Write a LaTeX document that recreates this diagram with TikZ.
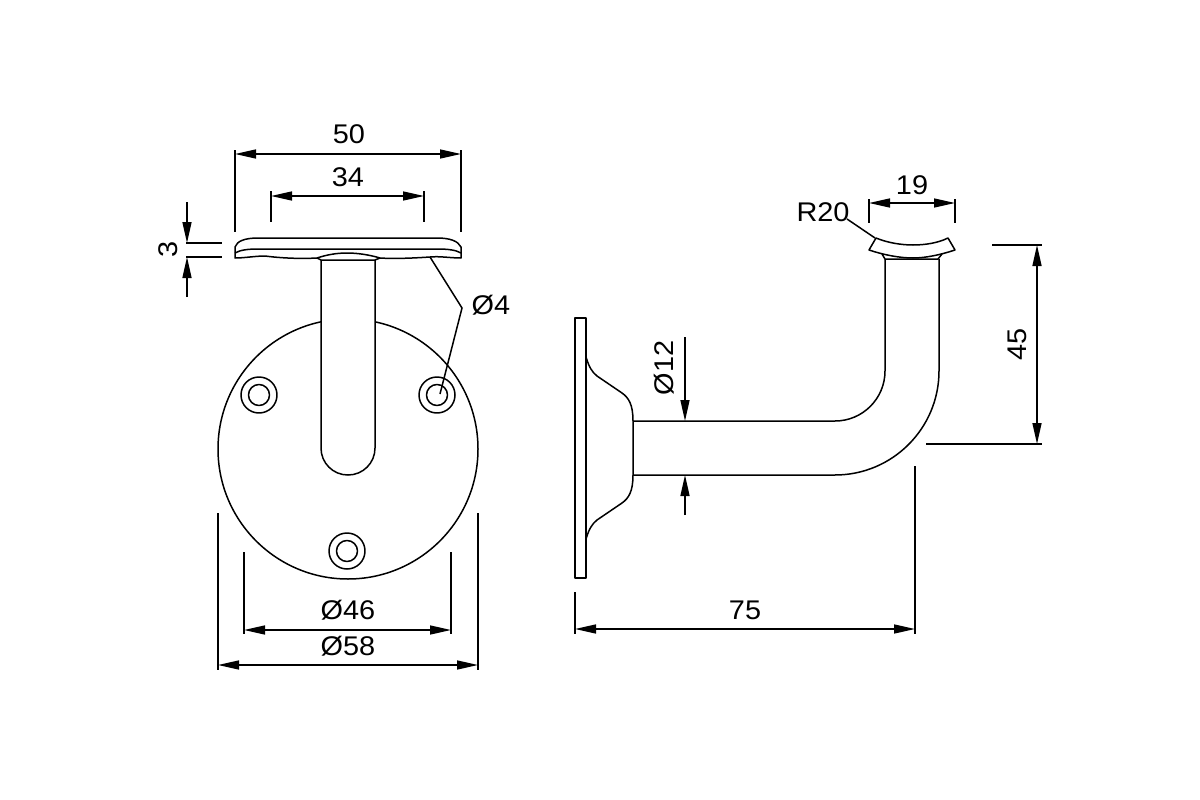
\documentclass[tikz,border=0pt]{standalone}
\usepackage{fontspec}
\setmainfont[FakeStretch=1.07]{Liberation Sans}
\usetikzlibrary{arrows.meta}
\tikzset{
  part/.style={draw=black,line width=1.5pt,line join=round},
  thinl/.style={draw=black,line width=1.5pt},
  tip/.style={-{Triangle[length=21pt,width=9pt]}},
  dim/.style={thinl,{Triangle[length=21pt,width=9pt]}-{Triangle[length=21pt,width=9pt]}},
  lab/.style={inner sep=0pt,font=\fontsize{27}{27}\selectfont,text=black}
}
\begin{document}
\begin{tikzpicture}[x=1pt,y=-1pt]
\useasboundingbox[fill=white] (0,0) rectangle (1200,800);

% front view: base disc, holes, stem
\draw[part] (348,449) circle[radius=130];
\draw[part] (259,395) circle[radius=18];
\draw[part] (259,395) circle[radius=10.5];
\draw[part] (437,395) circle[radius=18];
\draw[part] (437,395) circle[radius=10.5];
\draw[part] (347,551) circle[radius=18];
\draw[part] (347,551) circle[radius=10.5];
\draw[part,fill=white] (321,260) -- (321,448) .. controls (321,463) and (333,475) .. (348,475) .. controls (363,475) and (375,463) .. (375,448) -- (375,260);

% front view: top plate
\draw[part,fill=white] (235,258) -- (235,247) .. controls (237,241) and (245,238) .. (258,238) -- (437,238)
  .. controls (450,238) and (458,241) .. (461,247) -- (461,258)
  .. controls (450,258) and (440,256) .. (430,257) .. controls (415,258) and (395,259) .. (380,258)
  .. controls (370,255) and (358,253) .. (347,253) .. controls (336,253) and (326,255) .. (317,258)
  .. controls (300,259) and (280,258) .. (265,256) .. controls (255,256) and (245,258) .. (235,258) -- cycle;
\draw[part] (235,253) .. controls (240,250) and (248,249) .. (258,249) -- (437,249) .. controls (448,249) and (456,250) .. (461,253);
\draw[part] (317,258) -- (321,260) -- (375,260) -- (380,258);

% side view
\draw[part] (575,318) rectangle (586,578);
\draw[part] (586,357) .. controls (589,367) and (592,372) .. (597,376) -- (622,393) .. controls (629,398) and (633,405) .. (633,421)
  -- (633,475) .. controls (633,491) and (629,498) .. (622,503) -- (597,520) .. controls (592,524) and (589,529) .. (586,539);
\draw[part] (633,421) -- (835,421) .. controls (862.6,421) and (885,398.6) .. (885,371) -- (885,259);
\draw[part] (633,475) -- (835,475) .. controls (892.4,475) and (939,428.4) .. (939,371) -- (939,259);
\draw[part] (882,254) -- (885,259) -- (938,259) -- (942,254);
\draw[part,fill=white] (876,238) .. controls (888,243) and (902,245) .. (913,245) .. controls (925,245) and (938,243) .. (948,238)
  -- (955,250) .. controls (940,255) and (925,258) .. (913,258) .. controls (900,258) and (884,255) .. (869,250) -- cycle;

% dimensions
\coordinate (e50a) at (235,150); \coordinate (e50b) at (235,232);
\coordinate (e50c) at (461,150); \coordinate (e50d) at (461,232);
\draw[thinl] (e50a) -- (e50b); \draw[thinl] (e50c) -- (e50d);
\coordinate (d50a) at (235,154); \coordinate (d50b) at (461,154);
\draw[dim] (d50a) -- (d50b);
\node[lab] (t50) at (349,134) {50};

\coordinate (e34a) at (271,191); \coordinate (e34b) at (271,222);
\coordinate (e34c) at (424,191); \coordinate (e34d) at (424,222);
\draw[thinl] (e34a) -- (e34b); \draw[thinl] (e34c) -- (e34d);
\coordinate (d34a) at (271,196); \coordinate (d34b) at (424,196);
\draw[dim] (d34a) -- (d34b);
\node[lab] (t34) at (348,177) {34};

\coordinate (e3a) at (186,243); \coordinate (e3b) at (222,243);
\coordinate (e3c) at (186,257); \coordinate (e3d) at (222,257);
\draw[thinl] (e3a) -- (e3b); \draw[thinl] (e3c) -- (e3d);
\coordinate (d3a) at (187,202); \coordinate (d3b) at (187,243);
\coordinate (d3c) at (187,297); \coordinate (d3d) at (187,257);
\draw[thinl,tip] (d3a) -- (d3b);
\draw[thinl,tip] (d3c) -- (d3d);
\node[lab,rotate=90] (t3) at (168,249) {3};

\coordinate (l4a) at (430,257); \coordinate (l4b) at (462,308); \coordinate (l4c) at (440,394);
\draw[thinl] (l4a) -- (l4b) -- (l4c);
\node[lab] (t4) at (491,305) {Ø4};

\coordinate (e46a) at (244,552); \coordinate (e46b) at (244,634);
\coordinate (e46c) at (451,552); \coordinate (e46d) at (451,634);
\draw[thinl] (e46a) -- (e46b); \draw[thinl] (e46c) -- (e46d);
\coordinate (d46a) at (244,630); \coordinate (d46b) at (451,630);
\draw[dim] (d46a) -- (d46b);
\node[lab] (t46) at (348,610) {Ø46};

\coordinate (e58a) at (218,513); \coordinate (e58b) at (218,670);
\coordinate (e58c) at (478,513); \coordinate (e58d) at (478,670);
\draw[thinl] (e58a) -- (e58b); \draw[thinl] (e58c) -- (e58d);
\coordinate (d58a) at (218,665); \coordinate (d58b) at (478,665);
\draw[dim] (d58a) -- (d58b);
\node[lab] (t58) at (348,646) {Ø58};

\coordinate (d12a) at (685,337); \coordinate (d12b) at (685,421);
\coordinate (d12c) at (685,515); \coordinate (d12d) at (685,475);
\draw[thinl,tip] (d12a) -- (d12b);
\draw[thinl,tip] (d12c) -- (d12d);
\node[lab,rotate=90] (t12) at (664,368) {Ø12};

\coordinate (e75a) at (575,592); \coordinate (e75b) at (575,634);
\coordinate (e75c) at (915,466); \coordinate (e75d) at (915,634);
\draw[thinl] (e75a) -- (e75b); \draw[thinl] (e75c) -- (e75d);
\coordinate (d75a) at (575,629); \coordinate (d75b) at (915,629);
\draw[dim] (d75a) -- (d75b);
\node[lab] (t75) at (745,610) {75};

\coordinate (e45a) at (992,245); \coordinate (e45b) at (1042,245);
\coordinate (e45c) at (926,444); \coordinate (e45d) at (1042,444);
\draw[thinl] (e45a) -- (e45b); \draw[thinl] (e45c) -- (e45d);
\coordinate (d45a) at (1037,245); \coordinate (d45b) at (1037,444);
\draw[dim] (d45a) -- (d45b);
\node[lab,rotate=90] (t45) at (1017,344) {45};

\coordinate (e19a) at (869,199); \coordinate (e19b) at (869,223);
\coordinate (e19c) at (955,199); \coordinate (e19d) at (955,223);
\draw[thinl] (e19a) -- (e19b); \draw[thinl] (e19c) -- (e19d);
\coordinate (d19a) at (869,203); \coordinate (d19b) at (955,203);
\draw[dim] (d19a) -- (d19b);
\node[lab] (t19) at (912,185) {19};

\coordinate (r20a) at (847,219); \coordinate (r20b) at (875,238);
\draw[thinl] (r20a) -- (r20b);
\node[lab] (tr20) at (823,212) {R20};
\end{tikzpicture}
\end{document}
